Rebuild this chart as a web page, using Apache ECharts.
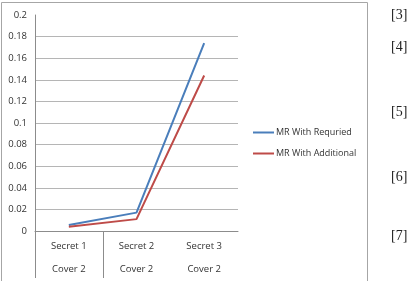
<!DOCTYPE html>
<html>
<head>
<meta charset="utf-8">
<script src="https://cdn.jsdelivr.net/npm/echarts@6/dist/echarts.min.js"></script>
<style>
  html, body { margin: 0; padding: 0; background: #fff; }
  #chart { width: 409px; height: 281px; }
</style>
</head>
<body>
<div id="chart"></div>
<script>
// data
const categories = ['Secret 1\nCover 2', 'Secret 2\nCover 2', 'Secret 3\nCover 2'];
const required = [0.0055, 0.017, 0.174];
const additional = [0.004, 0.011, 0.144];
const seriesNames = ['MR With Requried', 'MR With Additional'];
const refLabels = ['[3]', '[4]', '[5]', '[6]', '[7]'];
const refMids = [15, 47, 112, 177, 236];

const chart = echarts.init(document.getElementById('chart'));

const option = {
  animation: false,
  textStyle: { fontFamily: 'Open Sans, Liberation Sans, sans-serif' },
  grid: { left: 35, right: 171, top: 15, bottom: 50 },
  legend: {
    orient: 'vertical',
    left: 248,
    top: 123,
    itemWidth: 21,
    itemHeight: 2,
    itemGap: 12,
    icon: 'rect',
    data: seriesNames,
    textStyle: { fontSize: 9, color: '#333', padding: [0, 0, 0, -3] }
  },
  xAxis: {
    type: 'category',
    data: categories,
    boundaryGap: true,
    axisLine: { lineStyle: { color: '#8c8c8c', width: 1 } },
    axisTick: { show: false },
    axisLabel: {
      fontSize: 9.5,
      color: '#333',
      lineHeight: 23,
      margin: 4
    }
  },
  yAxis: {
    type: 'value',
    min: 0,
    max: 0.2,
    interval: 0.02,
    axisLine: { show: true, lineStyle: { color: '#8c8c8c' } },
    axisTick: { show: false },
    axisLabel: {
      fontSize: 9.5,
      color: '#333',
      margin: 8,
      formatter: function (v) { return String(+v.toFixed(2)); }
    },
    splitLine: { showMaxLine: false, lineStyle: { color: '#b5b5b5', width: 1 } }
  },
  series: [
    {
      name: seriesNames[0],
      type: 'line',
      data: required,
      symbol: 'none',
      lineStyle: { color: '#4a7ebb', width: 2 },
      itemStyle: { color: '#4a7ebb' }
    },
    {
      name: seriesNames[1],
      type: 'line',
      data: additional,
      symbol: 'none',
      lineStyle: { color: '#be4b48', width: 2 },
      itemStyle: { color: '#be4b48' }
    }
  ]
};

chart.setOption(option);

// category separator below the axis: left edge and between first two categories
const p0 = chart.convertToPixel({ xAxisIndex: 0 }, 0);
const p1 = chart.convertToPixel({ xAxisIndex: 0 }, 1);
const yZero = chart.convertToPixel({ yAxisIndex: 0 }, 0);
const half = (p1 - p0) / 2;
const sepXs = [p0 - half, p0 + half].map(function (x) { return Math.round(x) + 0.5; });

const graphics = [
  {
    type: 'rect',
    shape: { x: 1.5, y: 2.5, width: 366, height: 290 },
    style: { fill: 'none', stroke: '#a6a6a6', lineWidth: 1 },
    silent: true
  }
];
sepXs.forEach(function (x) {
  graphics.push({
    type: 'line',
    shape: { x1: x, y1: yZero, x2: x, y2: yZero + 47 },
    style: { stroke: '#8c8c8c', lineWidth: 1 },
    silent: true
  });
});
refLabels.forEach(function (t, i) {
  graphics.push({
    type: 'text',
    x: 391,
    y: refMids[i],
    style: {
      text: t, fontSize: 14, fill: '#222',
      fontFamily: 'Liberation Serif, DejaVu Serif, serif',
      verticalAlign: 'middle'
    }
  });
});
chart.setOption({ graphic: graphics });
</script>
</body>
</html>
